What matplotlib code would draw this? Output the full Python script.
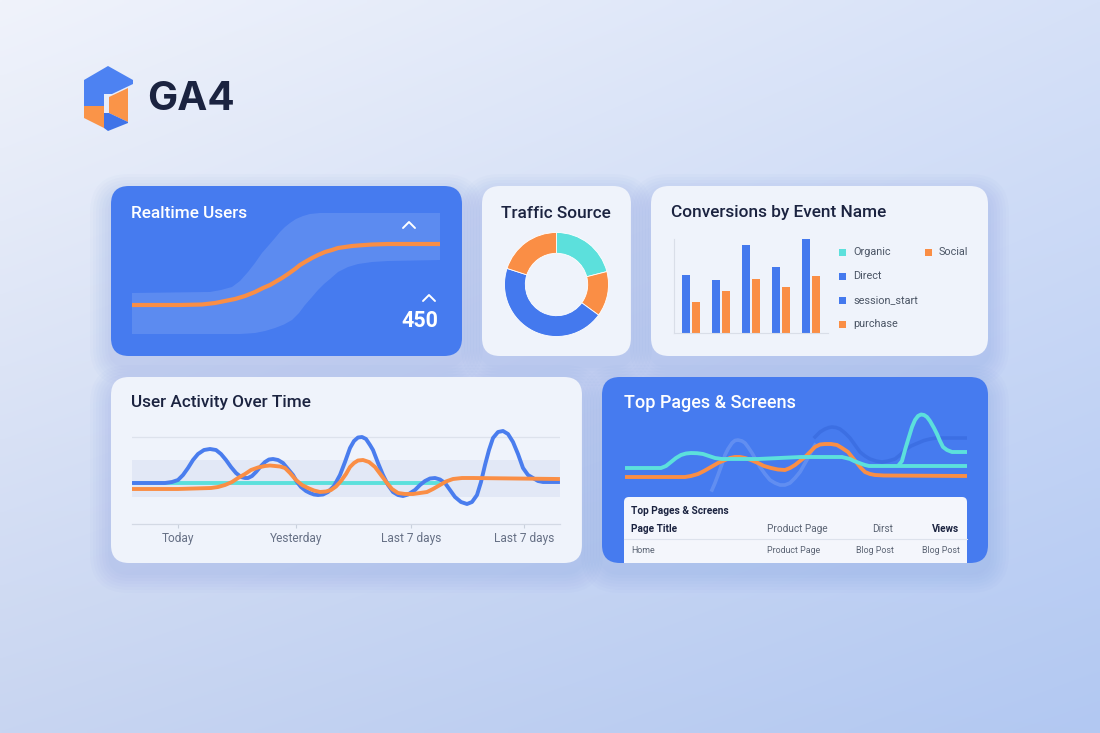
import matplotlib
matplotlib.use('Agg')
import matplotlib.pyplot as plt
from matplotlib.patches import FancyBboxPatch, Polygon
import numpy as np

# ── palette ───────────────────────────────────────────────────────────────
CARD_BLUE  = '#467BEF'
CARD_LIGHT = '#EFF3FB'
BLUE   = '#4479EE'
ORANGE = '#FA8E45'
CYAN   = '#5CE0DC'
TEXT   = '#1B2340'
GRAY   = '#667085'

plt.rcParams['font.family'] = ['Roboto', 'DejaVu Sans']

# ── data ──────────────────────────────────────────────────────────────────
# Realtime Users
rt_t     = [0, 48, 70, 83, 93, 103, 113, 123, 131, 138, 144, 150, 156, 163, 168, 173,
            180, 186, 193, 200, 206, 213, 220, 226, 240, 256, 308]
rt_users = [35, 35, 35.5, 37, 39, 41, 44, 48, 52, 55, 58.5, 62, 66, 71, 75, 78,
            82, 85, 88, 90, 92, 93, 94, 94.5, 95.5, 96, 96]
rt_hi_t  = [0, 78, 89, 100, 108, 116, 123, 130, 137, 143, 148, 153, 158, 164, 171, 178,
            188, 198, 308]
rt_hi    = [47, 48, 50, 53, 59, 68, 77, 87, 95, 102, 108, 113, 117, 121, 124, 126,
            127, 127, 127]
rt_lo_t  = [0, 108, 116, 123, 133, 143, 152, 160, 167, 173, 180, 186, 192, 198, 206, 216,
            226, 240, 256, 308]
rt_lo    = [6, 6, 6.5, 7, 9, 12, 15.5, 20, 27, 35, 43, 50, 56, 61, 68, 73,
            76, 78, 79, 80]
rt_value = '450'

# Traffic Source
src_names  = ['Organic', 'Social', 'Direct', 'Referral']
src_values = [21, 14, 45, 20]

# Conversions by Event Name
conv_blue   = [58, 53, 88, 66, 94]
conv_orange = [31, 42, 54, 46, 57]
legend_labels = ['Organic', 'Direct', 'session_start', 'purchase', 'Social']

# User Activity Over Time
ua_blue_t = [1, 33, 40, 46, 51, 56, 61, 66, 72, 78, 84, 89, 94, 99, 104, 109, 113, 116,
             120, 124, 129, 133, 137, 141, 146, 151, 156, 161, 165, 169, 174, 178, 182,
             186, 191, 196, 202, 208, 213, 218, 222, 226, 230, 234, 238, 241, 246, 251,
             256, 261, 266, 271, 276, 283, 288, 293, 298, 303, 308, 313, 318, 323, 329,
             335, 340, 345, 349, 353, 357, 361, 366, 371, 376, 381, 386, 391, 396, 401,
             406, 411, 426]
ua_blue   = [41, 41, 42, 44, 49, 56, 64, 70, 74, 75, 74, 70, 64, 57, 51, 47, 46, 46,
             48, 52, 58, 62, 64.5, 65, 64, 61, 55, 49, 42, 37, 33, 31, 29.5,
             29, 29.5, 32, 38, 49, 62, 76, 83, 86.5, 87, 85, 79, 74, 61, 49,
             39, 32, 29, 28, 29.5, 34, 39, 43, 45.5, 46, 44.5, 41, 34, 27, 22,
             20, 22, 29, 42, 59, 74, 86, 92, 93, 90, 82, 70, 56, 49, 46,
             43, 42, 42]
ua_orange_t = [1, 46, 79, 86, 93, 100, 106, 113, 119, 126, 133, 138, 143, 148, 153, 158,
               164, 170, 176, 182, 188, 194, 199, 204, 209, 214, 218, 222, 226, 231, 237,
               243, 249, 255, 260, 266, 273, 281, 288, 295, 301, 308, 314, 321, 330, 341,
               426]
ua_orange   = [35, 35, 36, 37, 39, 42, 46, 50, 54, 56.5, 58, 58.5, 58, 57.5, 56, 51,
               44, 39, 36, 33.5, 32, 32.5, 34, 37.5, 43, 50, 57, 61, 63.5, 64, 62,
               57, 49, 41, 35, 31, 30, 30, 31, 32, 35, 39, 42.5, 45, 46, 46,
               45]
ua_cyan_t = [1, 308]
ua_cyan   = [41, 41]
ua_ticks  = [46, 164, 279, 392]
ua_labels = ['Today', 'Yesterday', 'Last 7 days', 'Last 7 days']

# Top Pages & Screens
tp_cyan_t  = [1, 37, 42, 47, 52, 57, 62, 67, 73, 79, 85, 91, 98, 104, 134, 177, 218, 222,
              226, 230, 234, 238, 241, 245, 250, 343]
tp_cyan    = [27, 27, 29, 33, 37, 40, 41.5, 42, 41.8, 41, 39, 37, 36, 36, 36, 38, 38, 37,
              36, 34, 32.5, 31, 30, 29, 29, 29]
tp_cyan2_t = [274, 278, 281, 284, 288, 291, 294, 297, 300, 303, 306, 310, 313, 316, 319,
              323, 328, 343]
tp_cyan2   = [29, 34, 45, 55, 68, 75, 79, 80.5, 80, 78, 74, 67, 61, 54, 48,
              45, 43, 43]
tp_orange_t = [1, 61, 67, 74, 80, 87, 94, 101, 106, 111, 116, 121, 127, 134, 140, 147,
               154, 161, 166, 171, 176, 181, 186, 191, 196, 201, 207, 213, 218, 224, 228,
               233, 237, 241, 246, 251, 260, 343]
tp_orange   = [18, 18, 19, 21, 24, 28, 32, 35, 37, 38, 38, 37, 35, 32, 29, 27,
               25.5, 25, 27, 30, 34, 38, 43, 48, 50.5, 51, 51, 50, 47, 43, 38,
               32, 27, 23, 21, 20, 19.5, 19]
tp_ghost_t = [88, 91, 94, 98, 101, 104, 108, 111, 114, 118, 121, 124, 128, 132, 136, 141,
              146, 151, 156, 161, 166, 171, 176, 180, 184, 188, 191]
tp_ghost   = [5, 12, 20, 31, 40, 46, 52, 54.5, 55, 54, 52, 48, 42, 35, 28, 21,
              15, 12, 10, 10, 12, 17, 23, 30, 37, 45, 50]
tp_dark_t  = [191, 196, 201, 205, 208, 212, 216, 221, 226, 231, 236, 241, 246, 252, 258,
              264, 271, 276, 281, 287, 294, 300, 306, 312, 318, 343]
tp_dark    = [58, 63, 66, 67.5, 68, 67.5, 66, 62, 57, 50, 43, 39, 36, 34, 33,
              34, 36, 40, 45, 49, 52, 54.5, 56, 57, 57, 57]
tbl_header = ['Page Title', 'Product Page', 'Dirst', 'Views']
tbl_row    = ['Home', 'Product Page', 'Blog Post', 'Blog Post']

# ── canvas ────────────────────────────────────────────────────────────────
W, H = 1100, 733
fig = plt.figure(figsize=(11, 7.33), dpi=100)

bg = fig.add_axes([0, 0, 1, 1])
bg.set_xlim(0, W); bg.set_ylim(H, 0); bg.axis('off')
tl = np.array([240, 243, 251]) / 255
tr = np.array([214, 225, 248]) / 255
bl = np.array([200, 213, 241]) / 255
br = np.array([178, 200, 242]) / 255
u = np.linspace(0, 1, 220)[None, :, None]
v = np.linspace(0, 1, 147)[:, None, None]
grad = (1 - u) * (1 - v) * tl + u * (1 - v) * tr + (1 - u) * v * bl + u * v * br
bg.imshow(grad, extent=(0, W, H, 0), aspect='auto', interpolation='bilinear')


def card(x0, y0, x1, y1, color, r=18):
    for i in range(7):
        g = 3 + i * 3
        bg.add_patch(FancyBboxPatch((x0 - g, y0 - g + 9), x1 - x0 + 2 * g, y1 - y0 + 2 * g,
                                    boxstyle=f"round,pad=0,rounding_size={r + g}",
                                    fc='#6F8DD6', ec='none', alpha=0.03))
    p = FancyBboxPatch((x0, y0), x1 - x0, y1 - y0,
                       boxstyle=f"round,pad=0,rounding_size={r}",
                       fc=color, ec='none')
    bg.add_patch(p)
    return p


card(111, 186, 462, 356, CARD_BLUE)
card(482, 186, 631, 356, CARD_LIGHT)
card(651, 186, 988, 356, CARD_LIGHT)
card(111, 377, 582, 563, CARD_LIGHT)
tp_card = card(602, 377, 988, 563, CARD_BLUE)

# table inside Top Pages card, clipped by the card
tbl = FancyBboxPatch((624, 497), 343, 90, boxstyle="round,pad=0,rounding_size=5",
                     fc='#F4F6FC', ec='none')
bg.add_patch(tbl)
tbl.set_clip_path(tp_card)
bg.plot([624, 967], [539, 539], color='#DDE2EC', lw=0.8)

# logo
bg.add_patch(Polygon([(84, 80), (108, 66), (133, 80), (133, 84), (112, 94), (104, 94),
                      (104, 106), (84, 106)], closed=True, fc='#4D82F2', ec='none'))
bg.add_patch(Polygon([(84, 106), (104, 106), (104, 128), (84, 118)], closed=True,
                     fc='#FA9448', ec='none'))
bg.add_patch(Polygon([(109, 97), (128, 88), (128, 122), (109, 113)], closed=True,
                     fc='#FA9448', ec='none'))
bg.add_patch(Polygon([(104, 113), (109, 113), (128, 122), (128, 123), (108, 131),
                      (104, 128)], closed=True, fc='#3F73E8', ec='none'))


def px_axes(x0, y0, x1, y1):
    a = fig.add_axes([x0 / W, 1 - y1 / H, (x1 - x0) / W, (y1 - y0) / H])
    a.patch.set_visible(False)
    return a


# ── Realtime Users ────────────────────────────────────────────────────────
ax = px_axes(132, 200, 440, 340)
ax.fill(rt_hi_t + rt_lo_t[::-1], rt_hi + rt_lo[::-1], color='white', alpha=0.12, lw=0)
ax.plot(rt_t, rt_users, color=ORANGE, lw=3, solid_capstyle='butt',
        solid_joinstyle='round')
ax.set_xlim(0, 308); ax.set_ylim(0, 140)
ax.axis('off')

# ── Traffic Source donut ──────────────────────────────────────────────────
ax = px_axes(504.5, 232.5, 608.5, 336.5)
ax.pie(src_values, colors=[CYAN, ORANGE, BLUE, ORANGE], startangle=90,
       counterclock=False, radius=1,
       wedgeprops=dict(width=0.4, edgecolor='white', linewidth=0.6))
ax.set_xlim(-1, 1); ax.set_ylim(-1, 1); ax.set_aspect('equal')

# ── Conversions bars ──────────────────────────────────────────────────────
ax = px_axes(674, 239, 828, 333)
xs = np.arange(len(conv_blue))
ax.bar(xs - 0.17, conv_blue, width=0.28, color=BLUE)
ax.bar(xs + 0.17, conv_orange, width=0.28, color=ORANGE)
ax.set_xlim(-0.567, 4.567); ax.set_ylim(0, 94)
for s in ['top', 'right']:
    ax.spines[s].set_visible(False)
for s in ['left', 'bottom']:
    ax.spines[s].set_color('#D9DEE8'); ax.spines[s].set_linewidth(0.8)
ax.set_xticks([]); ax.set_yticks([])

# ── User Activity Over Time ───────────────────────────────────────────────
ax = px_axes(132, 425, 560, 524)
ax.axhspan(27, 64, color='#DFE6F5', alpha=0.8, lw=0)
ax.axhline(87, color='#DDE2EC', lw=0.9)
ax.plot(ua_cyan_t, ua_cyan, color=CYAN, lw=2.8, solid_capstyle='butt')
ax.plot(ua_blue_t, ua_blue, color='#4A7DEE', lw=2.8, solid_joinstyle='round')
ax.plot(ua_orange_t, ua_orange, color=ORANGE, lw=2.8, solid_joinstyle='round')
ax.set_xlim(0, 428); ax.set_ylim(0, 99)
for s in ['top', 'right', 'left']:
    ax.spines[s].set_visible(False)
ax.spines['bottom'].set_color('#D3D9E4'); ax.spines['bottom'].set_linewidth(0.9)
ax.set_yticks([])
ax.set_xticks(ua_ticks)
ax.set_xticklabels(ua_labels, fontsize=8.6, color=GRAY)
ax.tick_params(axis='x', length=3, color='#C9D0DC', pad=3)

# ── Top Pages & Screens lines ─────────────────────────────────────────────
ax = px_axes(624, 405, 967, 495)
ax.plot(tp_ghost_t, tp_ghost, color='white', alpha=0.15, lw=2.6, solid_joinstyle='round')
ax.plot(tp_dark_t, tp_dark, color='#2E5ED3', alpha=0.4, lw=2.6, solid_joinstyle='round')
ax.plot(tp_orange_t, tp_orange, color=ORANGE, lw=2.8, solid_capstyle='butt',
        solid_joinstyle='round')
ax.plot(tp_cyan_t, tp_cyan, color=CYAN, lw=2.8, solid_capstyle='butt',
        solid_joinstyle='round')
ax.plot(tp_cyan2_t, tp_cyan2, color=CYAN, lw=2.8, solid_capstyle='butt',
        solid_joinstyle='round')
ax.set_xlim(0, 343); ax.set_ylim(0, 90)
ax.axis('off')

# ── overlay texts ─────────────────────────────────────────────────────────
ov = fig.add_axes([0, 0, 1, 1], zorder=5)
ov.patch.set_visible(False)
ov.set_xlim(0, W); ov.set_ylim(H, 0); ov.axis('off')

ov.text(147, 96, 'GA4', fontsize=29, fontweight='bold', color=TEXT, va='center_baseline',
        family=['Inter', 'DejaVu Sans'])

title_kw = dict(fontsize=12.4, fontweight='medium', va='center', ha='left')
ov.text(131, 213, 'Realtime Users', color='white', **title_kw)
ov.text(556, 213, 'Traffic Source', color=TEXT, fontsize=12.4, fontweight='medium',
        va='center', ha='center')
ov.text(671, 213, 'Conversions by Event Name', color=TEXT, **title_kw)
ov.text(131, 403, 'User Activity Over Time', color=TEXT, **title_kw)
ov.text(624, 403, 'Top Pages & Screens', color='white', fontsize=13,
        fontweight='medium', va='center', ha='left')

# chevrons + value in realtime card
for cx, cy in [(409, 225), (429, 298)]:
    ov.plot([cx - 6, cx, cx + 6], [cy + 3, cy - 3, cy + 3], color='white', lw=1.4,
            solid_capstyle='round', solid_joinstyle='round')
ov.text(438, 321, rt_value, color='white', fontsize=15.5, fontweight='bold',
        ha='right', va='center')

# conversions legend
leg_pos = [(842, 252), (842, 276), (842, 300), (842, 324), (928, 252)]
leg_col = [CYAN, BLUE, BLUE, ORANGE, ORANGE]
for (lx, ly), lab, col in zip(leg_pos, legend_labels, leg_col):
    ov.add_patch(plt.Rectangle((lx - 3.5, ly - 3.5), 7, 7, fc=col, ec='none'))
    ov.text(lx + 11, ly, lab, fontsize=7.8, color='#4B5565', va='center', ha='left')

# table texts
ov.text(631, 510.5, 'Top Pages & Screens', fontsize=7.3, fontweight='bold', color=TEXT,
        va='center')
hx = [(631, 'left'), (767, 'left'), (893, 'right'), (959, 'right')]
for (tx, ha), lab in zip(hx, tbl_header):
    bold = lab in ('Page Title', 'Views')
    ov.text(tx, 529.5, lab, fontsize=7.2, ha=ha, va='center',
            fontweight='bold' if bold else 'normal',
            color=TEXT if bold else '#5B6474')
for (tx, ha), lab in zip(hx, tbl_row):
    ov.text(tx + (1 if ha == 'right' else 0), 550.5, lab, fontsize=6.4, ha=ha,
            va='center', color='#5B6474')

fig.savefig('out.png', dpi=100)
plt.close(fig)
